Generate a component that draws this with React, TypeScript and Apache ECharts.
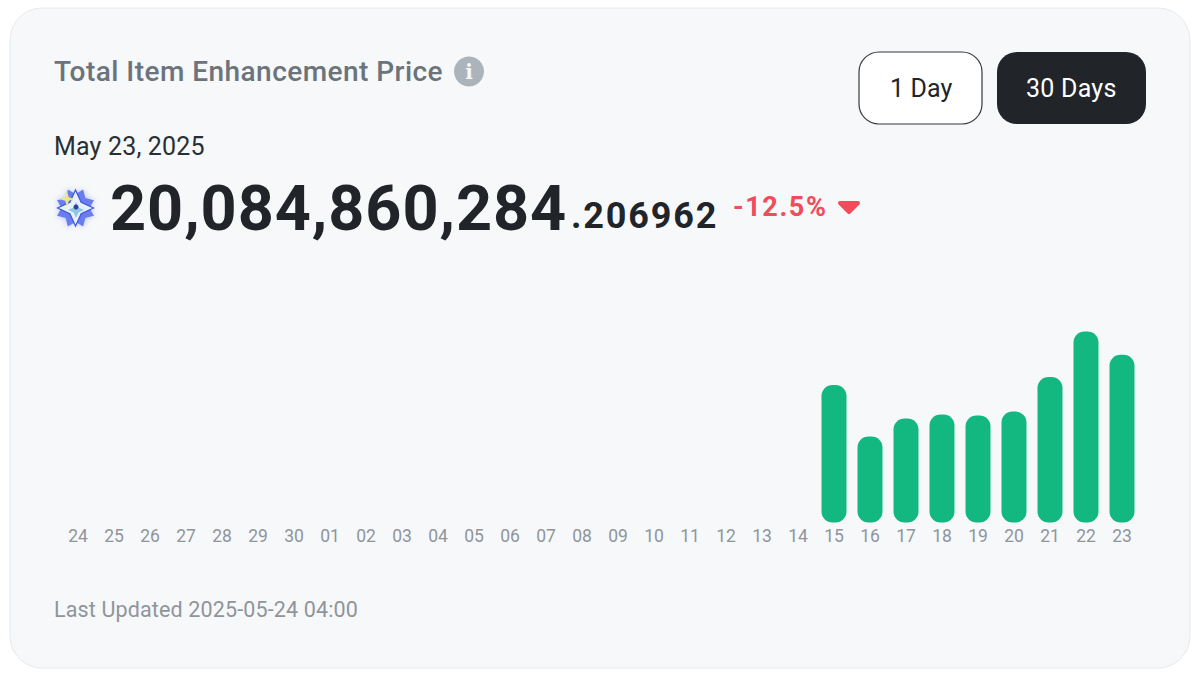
import React, { useEffect, useRef } from "react";
import * as echarts from "echarts";

const days = ["24","25","26","27","28","29","30","01","02","03","04","05","06","07","08","09","10","11","12","13","14","15","16","17","18","19","20","21","22","23"];
const priceBillions: (number | null)[] = [null,null,null,null,null,null,null,null,null,null,null,null,null,null,null,null,null,null,null,null,null,16.47,10.3,12.46,12.93,12.81,13.29,17.42,22.87,20.08];

const titleText = "Total Item Enhancement Price";
const dateText = "May 23, 2025";
const priceInt = "20,084,860,284";
const priceDec = ".206962";
const changeText = "-12.5%";
const updatedText = "Last Updated 2025-05-24 04:00";
const oneDay = "1 Day";
const thirtyDays = "30 Days";
const FONT = "Roboto, sans-serif";

const spacing: Record<string, string> = {
  [titleText]: "0.46px",
  [dateText]: "0.17px",
  [priceInt]: "0.93px",
  [priceDec]: "1.85px",
  [changeText]: "1.6px",
  [updatedText]: "0.14px",
  [oneDay]: "0.1px",
  [thirtyDays]: "0.25px",
};

function star(cx: number, cy: number, R: number, r: number, n: number, rot = 0) {
  const pts: number[][] = [];
  for (let i = 0; i < n * 2; i++) {
    const a = rot + (i * Math.PI) / n - Math.PI / 2;
    const d = i % 2 === 0 ? R : r;
    pts.push([cx + d * Math.cos(a), cy + d * Math.sin(a)]);
  }
  return pts;
}

function txt(x: number, y: number, text: string, size: number, weight: number, fill: string, align = "left") {
  return {
    type: "text", x, y,
    style: { text, fontFamily: FONT, fontSize: size, fontWeight: weight, fill, align, verticalAlign: "middle" },
  };
}

export default function App() {
  const ref = useRef<HTMLDivElement>(null);
  useEffect(() => {
    const chart = echarts.init(ref.current!, undefined, { renderer: "svg" });
    chart.setOption({
      animation: false,
      backgroundColor: "#ffffff",
      grid: { left: 60, right: 60, top: 272, bottom: 165.5 },
      xAxis: {
        type: "category",
        data: days,
        axisLine: { show: false },
        axisTick: { show: false },
        axisLabel: { interval: 0, color: "#8f959b", fontFamily: FONT, fontSize: 17.5, margin: 4, hideOverlap: false },
      },
      yAxis: { type: "value", min: 0, max: 30, show: false, splitLine: { show: false } },
      series: [{
        type: "bar",
        data: priceBillions,
        barWidth: 25,
        itemStyle: { color: "#12b880", borderRadius: 11 },
        silent: true,
      }],
      graphic: [
        { type: "group", z: -10, silent: true, children: [
          { type: "rect", shape: { x: 10, y: 8, width: 1180, height: 660, r: 32 }, style: { fill: "#f6f8fa", stroke: "#e6e9ec", lineWidth: 1 } },
        ]},
        txt(54, 71, titleText, 28, 500, "#6b737b"),
        { type: "circle", shape: { cx: 469, cy: 71.5, r: 15 }, style: { fill: "#abb3bb" } },
        { type: "text", x: 469, y: 72, style: { text: "i", fontFamily: "DejaVu Serif", fontSize: 20, fontWeight: 700, fill: "#f6f8fa", align: "center", verticalAlign: "middle" } },
        txt(54, 146, dateText, 25, 400, "#2a2f33"),
        { type: "rect", shape: { x: 859, y: 52, width: 123, height: 72, r: 20 }, style: { fill: "#ffffff", stroke: "#343a40", lineWidth: 1.2 } },
        txt(890, 88, oneDay, 25, 400, "#212529"),
        { type: "rect", shape: { x: 997, y: 52, width: 149, height: 72, r: 20 }, style: { fill: "#212529" } },
        txt(1026, 88, thirtyDays, 25, 400, "#ffffff"),
        { type: "polygon", shape: { points: star(75.5, 208, 20, 14, 8, Math.PI / 8) }, style: { fill: "#6a7df0", shadowBlur: 6, shadowColor: "#b4bffa" } },
        { type: "polygon", shape: { points: star(75.5, 208, 18, 8, 4) }, style: { fill: "#e8effd", stroke: "#3f55d8", lineWidth: 1.2 } },
        { type: "polygon", shape: { points: star(67, 199, 8, 2.5, 4) }, style: { fill: "#efe48a" } },
        { type: "polygon", shape: { points: star(76, 210, 8, 3.5, 4) }, style: { fill: "#8fc7ea" } },
        { type: "circle", shape: { cx: 76, cy: 207, r: 2.5 }, style: { fill: "#32408f" } },
        txt(110, 208, priceInt, 63, 700, "#212529"),
        txt(571, 215.5, priceDec, 36, 700, "#212529"),
        txt(733, 207, changeText, 27, 700, "#f04c5c"),
        { type: "polygon", shape: { points: [[840, 203], [858, 203], [849, 212]] }, style: { fill: "#f04c5c", stroke: "#f04c5c", lineWidth: 4, lineJoin: "round" } },
        txt(54, 609, updatedText, 21.5, 400, "#8f959b"),
      ],
    });
    chart.getDom().querySelectorAll("text").forEach((t) => {
      const s = spacing[t.textContent || ""];
      if (s) t.style.letterSpacing = s;
    });
    return () => chart.dispose();
  }, []);
  return <div ref={ref} style={{ position: "absolute", left: 0, top: 0, width: 1200, height: 688 }} />;
}
